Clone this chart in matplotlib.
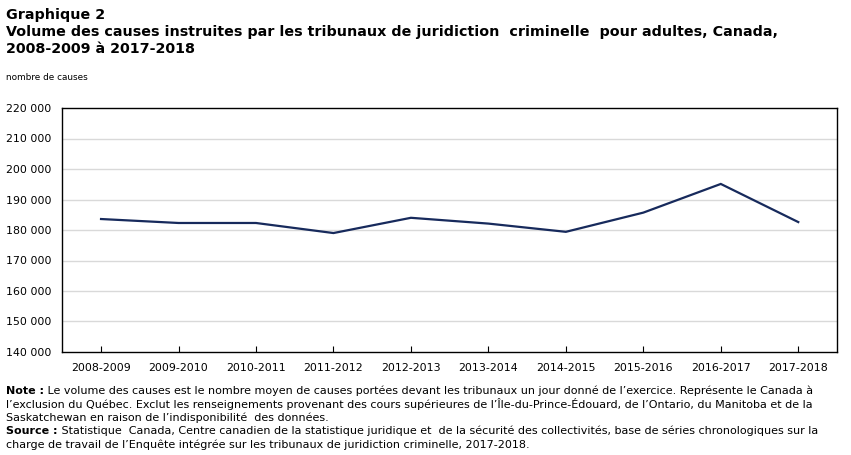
import matplotlib
matplotlib.use("Agg")
import matplotlib.pyplot as plt
from matplotlib.ticker import FuncFormatter

# données
annees = ["2008-2009", "2009-2010", "2010-2011", "2011-2012", "2012-2013",
          "2013-2014", "2014-2015", "2015-2016", "2016-2017", "2017-2018"]
causes = [183600, 182300, 182300, 179000, 184000,
          182100, 179400, 185700, 195100, 182600]
y_ticks = [140000, 150000, 160000, 170000, 180000, 190000, 200000, 210000, 220000]

titre1 = "Graphique 2"
titre2 = "Volume des causes instruites par les tribunaux de juridiction  criminelle  pour adultes, Canada,"
titre3 = "2008-2009 à 2017-2018"
unite = "nombre de causes"
note_lignes = [
    " Le volume des causes est le nombre moyen de causes portées devant les tribunaux un jour donné de l’exercice. Représente le Canada à",
    "l’exclusion du Québec. Exclut les renseignements provenant des cours supérieures de l’Île-du-Prince-Édouard, de l’Ontario, du Manitoba et de la",
    "Saskatchewan en raison de l’indisponibilité  des données.",
]
source_lignes = [
    " Statistique  Canada, Centre canadien de la statistique juridique et  de la sécurité des collectivités, base de séries chronologiques sur la",
    "charge de travail de l’Enquête intégrée sur les tribunaux de juridiction criminelle, 2017-2018.",
]

plt.rcParams['font.family'] = ['DejaVu Sans']
W, H = 851, 455
fig = plt.figure(figsize=(W / 100, H / 100), dpi=100)
ax = fig.add_axes([62.3 / W, 1 - 352 / H, (837 - 62.3) / W, (352 - 108) / H])

x = list(range(len(annees)))
ax.plot(x, causes, color='#172a5c', linewidth=1.6, solid_joinstyle='miter')

ax.set_xlim(-0.5, len(annees) - 0.5)
ax.set_ylim(140000, 220000)
ax.set_xticks(x)
ax.set_xticklabels(annees)
ax.set_yticks(y_ticks)
ax.yaxis.set_major_formatter(FuncFormatter(lambda v, p: "{:,.0f}".format(v).replace(",", " ")))
for v in y_ticks[1:-1]:
    ax.axhline(v, color='#d9d9d9', linewidth=1.0, zorder=0)

for s in ax.spines.values():
    s.set_color('black')
    s.set_linewidth(1.0)
ax.tick_params(axis='x', direction='in', length=4, width=0.8, labelsize=7.9, pad=8, colors='black')
ax.tick_params(axis='y', length=0, labelsize=7.9, pad=8)

# titres
fig.text(6 / W, 1 - 15 / H, titre1, fontsize=10.3, fontweight='bold', va='center')
fig.text(6 / W, 1 - 32 / H, titre2, fontsize=10.3, fontweight='bold', va='center')
fig.text(6 / W, 1 - 49 / H, titre3, fontsize=10.3, fontweight='bold', va='center')
fig.text(6 / W, 1 - 77 / H, unite, fontsize=6.4, va='center')

# notes
taille = 8.0

def bloc(y0, label, lignes):
    t = fig.text(6 / W, 1 - y0 / H, label, fontsize=taille, fontweight='bold', va='baseline')
    ax.annotate(lignes[0], xy=(1, 0), xycoords=t, va='bottom', ha='left',
                fontsize=taille, annotation_clip=False)
    for i, l in enumerate(lignes[1:]):
        fig.text(6 / W, 1 - (y0 + 13.5 * (i + 1)) / H, l, fontsize=taille, va='baseline')

bloc(394, "Note :", note_lignes)
bloc(434.5, "Source :", source_lignes)

fig.savefig("out.png", dpi=100)
